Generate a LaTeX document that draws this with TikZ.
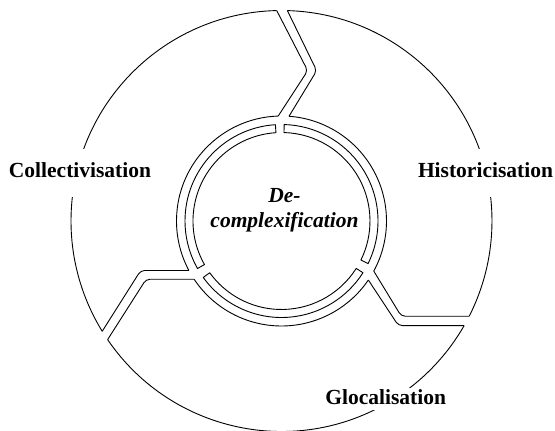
\documentclass[tikz,border=0pt]{standalone}
\usepackage{fontspec}
\setmainfont{Liberation Serif}
\begin{document}
\begin{tikzpicture}[x=1pt,y=1pt,
  line width=0.9pt, line join=round,
  lbl/.style={font=\fontsize{21.5}{25}\selectfont\bfseries, fill=white, inner xsep=2pt},
  ctr/.style={font=\fontsize{21.5}{25}\selectfont\bfseries\itshape, inner sep=0pt},
  chan/.style={rounded corners=4pt},
  band/.style={}]
\useasboundingbox (-281.5,-210) rectangle (273.5,221);
\coordinate (C) at (0,0);
% channel end points on the outer circle
\coordinate (TLo) at (91.3:210.5);
\coordinate (TRo) at (88.4:210.5);
\coordinate (LUo) at (211.6:210.5);
\coordinate (LLo) at (214.3:210.5);
\coordinate (RUo) at (-26.9:210.5);
\coordinate (RLo) at (-29.8:210.5);
% channel end points on the inner rim
\coordinate (TLi) at (91.8:105);
\coordinate (TRi) at (85.9:105);
\coordinate (LUi) at (208.1:105);
\coordinate (LLi) at (213.7:105);
\coordinate (RUi) at (-28.5:105);
\coordinate (RLi) at (-34.2:105);
% channel bends
\coordinate (TLb) at (26.2,150.3);
\coordinate (TRb) at (35.2,150.3);
\coordinate (LUb) at (-140.8,-110.3 |- LUi);
\coordinate (LLb) at (-135.4,-58.3 |- LLi);
\coordinate (RUb) at (119.8,0 |- RUo);
\coordinate (RLb) at (116.9,0 |- RLo);
% outer arcs
\draw (TRo) arc[start angle=88.4, end angle=-26.9, radius=210.5];
\draw (TLo) arc[start angle=91.3, end angle=211.6, radius=210.5];
\draw (LLo) arc[start angle=214.3, end angle=330.2, radius=210.5];
% inner rims of the three sectors
\draw (TRi) arc[start angle=85.9, end angle=-28.5, radius=105];
\draw (TLi) arc[start angle=91.8, end angle=208.1, radius=105];
\draw (LLi) arc[start angle=213.7, end angle=325.8, radius=105];
% channels
\draw[chan] (TLo) -- (TLb) -- (TLi);
\draw[chan] (TRo) -- (TRb) -- (TRi);
\draw[chan] (LUo) -- (LUb) -- (LUi);
\draw[chan] (LLo) -- (LLb) -- (LLi);
\draw[chan] (RUo) -- (RUb) -- (RUi);
\draw[chan] (RLo) -- (RLb) -- (RLi);
% inner band segments
\draw (93.6:96.5) arc[start angle=93.6, end angle=209.5, radius=96.5]
  -- (209.5:88.5) arc[start angle=209.5, end angle=93.6, radius=88.5] -- cycle;
\draw (215.8:96.5) arc[start angle=215.8, end angle=327.6, radius=96.5]
  -- (327.6:88.5) arc[start angle=327.6, end angle=215.8, radius=88.5] -- cycle;
\draw (333.8:96.5) arc[start angle=333.8, end angle=448.4, radius=96.5]
  -- (448.4:88.5) arc[start angle=448.4, end angle=333.8, radius=88.5] -- cycle;
% labels
\node[lbl, anchor=base, inner ysep=14pt, text depth=5pt] (coll) at (-201.5,43) {Collectivisation};
\node[lbl, anchor=base, inner ysep=14pt, text depth=5pt] (hist) at (204,43) {Historicisation};
\node[lbl, anchor=base, inner ysep=2pt, text depth=3pt] (gloc) at (104.2,-184) {Glocalisation};
\node[ctr, anchor=base] (de) at (3,18) {De-};
\node[ctr, anchor=base] (cx) at (3,-7) {complexification};
\end{tikzpicture}
\end{document}
